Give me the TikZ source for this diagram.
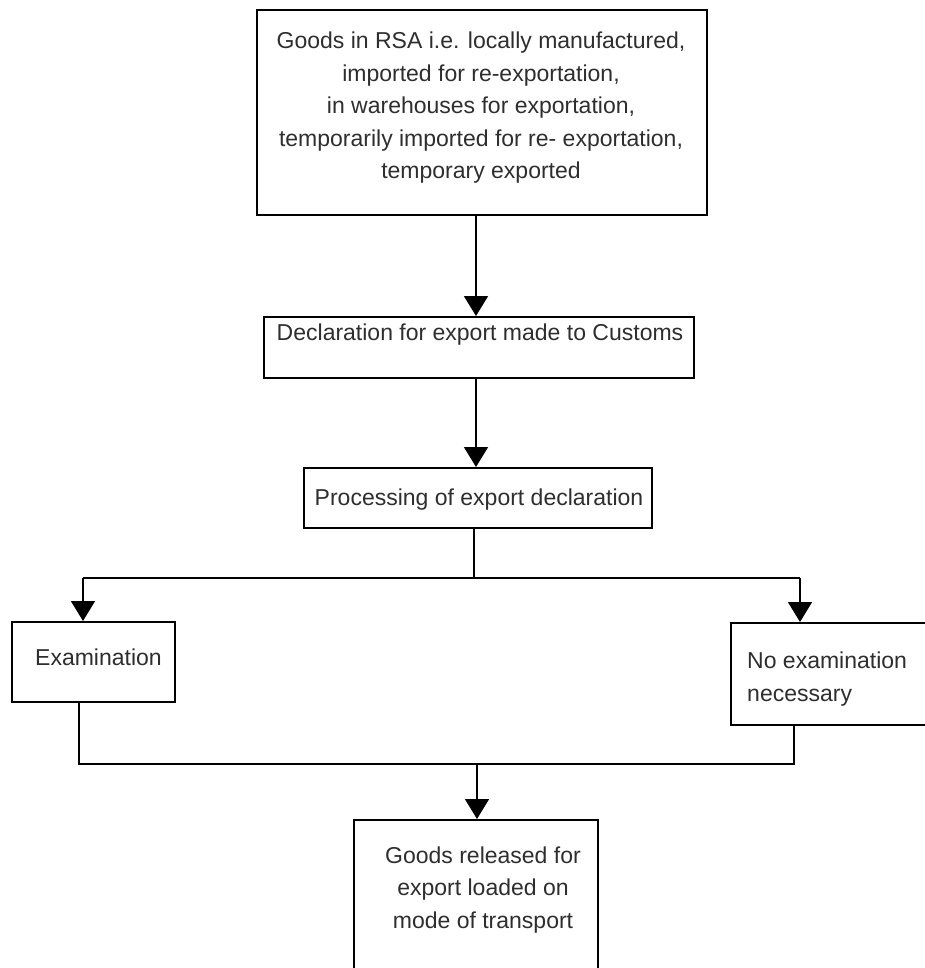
\documentclass[tikz,border=0pt]{standalone}
\usepackage{fontspec}
\setmainfont{Liberation Sans}
\usetikzlibrary{arrows.meta}
\definecolor{ink}{HTML}{2E2E2E}
\tikzset{
  box/.style={draw=black, line width=1.6pt, rectangle, inner sep=0pt, anchor=north west},
  txt/.style={inner sep=0pt, text=ink, font=\fontsize{23}{32.5}\selectfont},
  conn/.style={draw=black, line width=1.6pt},
  arr/.style={conn, -{Triangle[width=24pt,length=20pt]}}
}
\begin{document}
\begin{tikzpicture}[x=1pt,y=-1pt]
\useasboundingbox (0,0) rectangle (925,968);
\clip (0,0) rectangle (925,968);
\fill[white] (0,0) rectangle (925,968);
% boxes
\node[box, minimum width=450pt, minimum height=205pt] (b1) at (256,9) {};
\node[box, minimum width=430pt, minimum height=61pt] (b2) at (263,316) {};
\node[box, minimum width=348pt, minimum height=60pt] (b3) at (303,467) {};
\node[box, minimum width=163pt, minimum height=80pt] (ex) at (11,621) {};
\node[box, minimum width=205pt, minimum height=102pt] (nx) at (730,622) {};
\node[box, minimum width=244pt, minimum height=171pt] (b6) at (353,819) {};
% texts
\node[txt, align=center] (t1) at (481,108) {Goods in RSA i.e. locally manufactured,\\imported for re-exportation,\\in warehouses for exportation,\\temporarily imported for re- exportation,\\temporary exported};
\node[txt] (t2) at (480,335) {Declaration for export made to Customs};
\node[txt] (t3) at (479,500) {Processing of export declaration};
\node[txt, anchor=west] (t4) at (35,657) {Examination};
\node[txt, anchor=west, align=left] (t5) at (747,679) {No examination\\necessary};
\node[txt, align=center] (t6) at (483,890) {Goods released for\\export loaded on\\mode of transport};
% connector coordinates
\coordinate (spine) at (476,0);
\coordinate (j1) at (474,578);
\coordinate (jl) at (83,578);
\coordinate (jr) at (800,578);
\coordinate (ml) at (79,764);
\coordinate (mr) at (794,764);
\coordinate (mm) at (477,764);
% connectors
\draw[arr] (b1.south -| spine) -- (b2.north -| spine);
\draw[arr] (b2.south -| spine) -- (b3.north -| spine);
\draw[conn] (b3.south -| j1) -- (j1);
\draw[conn] (jl) -- (jr);
\draw[arr] (jl) -- (ex.north -| jl);
\draw[arr] (jr) -- (nx.north -| jr);
\draw[conn] (ex.south -| ml) -- (ml) -- (mr) -- (nx.south -| mr);
\draw[arr] (mm) -- (b6.north -| mm);
\end{tikzpicture}
\end{document}
